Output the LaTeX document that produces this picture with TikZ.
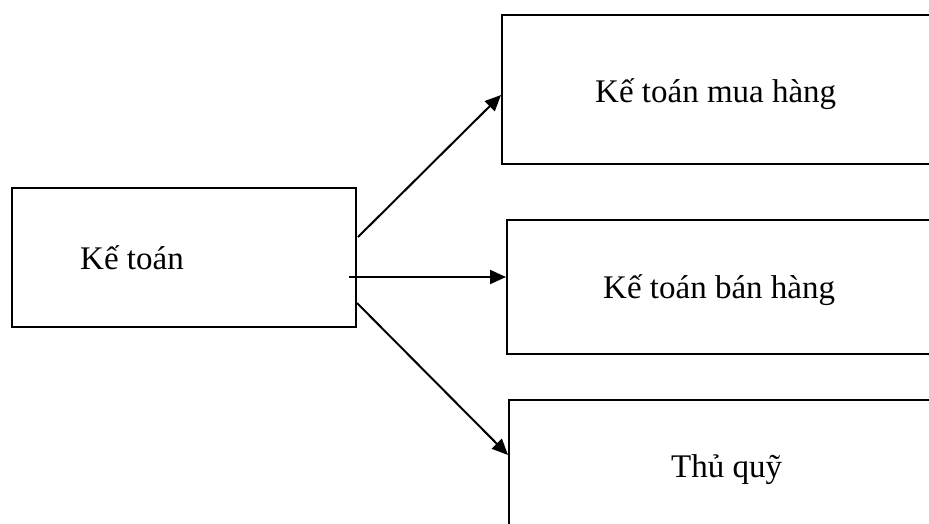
\documentclass[tikz,border=0pt]{standalone}
\usepackage{fontspec}
\setmainfont{Liberation Serif}
\usetikzlibrary{arrows.meta}
\begin{document}
\begin{tikzpicture}[x=1pt,y=-1pt,
  box/.style={draw=black,line width=2.3pt,rectangle,anchor=north west,inner sep=0pt},
  lbl/.style={anchor=base west,inner sep=0pt,font=\fontsize{33}{36}\selectfont},
  arr/.style={line width=2pt,-{Triangle[length=16pt,width=14pt]}}]
\useasboundingbox (0,0) rectangle (929,523);
\clip (0,0) rectangle (929,523);
\node[box,minimum width=344pt,minimum height=139pt] (ketoan) at (11,187) {};
\node[box,minimum width=450pt,minimum height=149pt] (mua) at (501,14) {};
\node[box,minimum width=445pt,minimum height=134pt] (ban) at (506,219) {};
\node[box,minimum width=445pt,minimum height=140pt] (quy) at (508,399) {};
\node[lbl] (t1) at (80,269) {Kế toán};
\node[lbl] (t2) at (595,102) {Kế toán mua hàng};
\node[lbl] (t3) at (603,298) {Kế toán bán hàng};
\node[lbl] (t4) at (671,477) {Thủ quỹ};
\coordinate (s1) at (358,237);
\coordinate (s2) at (349,277);
\coordinate (s3) at (357,303);
\coordinate (e1) at (mua.north west |- 0,95);
\coordinate (e2) at (ban.north west |- 0,277);
\coordinate (e3) at (quy.north west |- 0,455);
\draw[arr] (s1) -- (e1);
\draw[arr] (s2) -- (e2);
\draw[arr] (s3) -- (e3);
\end{tikzpicture}
\end{document}
